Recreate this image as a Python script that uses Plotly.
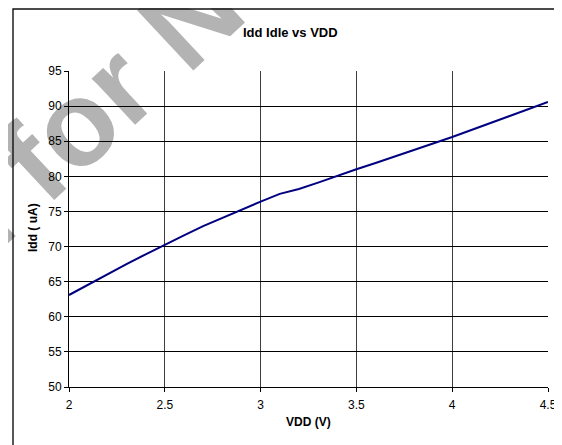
import math
import plotly.graph_objects as go

# ---- data ----
vdd = [2.0, 2.1, 2.2, 2.3, 2.4, 2.5, 2.6, 2.7, 2.8, 2.9, 3.0, 3.1, 3.2,
       3.3, 3.4, 3.5, 3.6, 3.7, 3.8, 3.9, 4.0, 4.1, 4.2, 4.3, 4.4, 4.5]
idd = [63.1, 64.6, 66.1, 67.5, 68.9, 70.3, 71.6, 72.9, 74.1, 75.3, 76.4,
       77.5, 78.2, 79.1, 80.1, 81.0, 81.9, 82.8, 83.7, 84.6, 85.6, 86.6,
       87.6, 88.6, 89.6, 90.6]
x_ticks = [2, 2.5, 3, 3.5, 4, 4.5]
x_tick_labels = ["2", "2.5", "3", "3.5", "4", "4.5"]
y_ticks = [50, 55, 60, 65, 70, 75, 80, 85, 90, 95]

title_text = "Idd Idle vs VDD"
x_title = "VDD (V)"
y_title = "Idd ( uA)"
watermark_text = "Not Recommended for New Designs"

# ---- layout geometry (pixels, page has an 8px body margin) ----
OFF = 8
W, H = 562 - OFF, 445 - OFF
L, T = 69 - OFF, 71 - OFF
R = 562 - 548
B = H - (387 - OFF)
PW, PH = W - L - R, H - T - B


def px(xp):
    # xp: x pixel in the reference image
    return (xp - OFF - L) / PW


def py(yp):
    # yp: y pixel in the reference image
    return (H - B - (yp - OFF)) / PH


FONT = "Arial, Liberation Sans, Helvetica, sans-serif"

fig = go.Figure()
fig.add_trace(go.Scatter(x=vdd, y=idd, mode="lines",
                         line=dict(color="#000080", width=2),
                         showlegend=False, hoverinfo="x+y"))

# watermark (below grid) as a shape label on an invisible line
ang = 43.0
cx, cy = -58, 233
dx, dy = 20 * math.cos(math.radians(ang)), 20 * math.sin(math.radians(ang))
fig.add_shape(type="line", xref="paper", yref="paper",
              x0=px(cx - dx), y0=py(cy + dy), x1=px(cx + dx), y1=py(cy - dy),
              line=dict(color="rgba(0,0,0,0)", width=1), layer="below",
              label=dict(text="<b>" + watermark_text + "</b>", textangle=-ang,
                         textposition="middle", xanchor="center",
                         yanchor="middle", padding=0,
                         font=dict(family=FONT, size=120, color="#b3b3b3")))

# chart-area border
fig.add_shape(type="rect", xref="paper", yref="paper",
              x0=px(13), y0=py(480), x1=px(640), y1=py(9),
              line=dict(color="#111111", width=1.4), layer="above")

# titles
fig.add_annotation(text="<b>" + title_text + "</b>", xref="paper", yref="paper",
                   x=px(290), y=py(32), xanchor="center", yanchor="middle",
                   showarrow=False, font=dict(size=13, color="#000000"))
fig.add_annotation(text="<b>" + x_title + "</b>", xref="paper", yref="paper",
                   x=px(308), y=py(422), xanchor="center", yanchor="middle",
                   showarrow=False, font=dict(size=12, color="#000000"))
fig.add_annotation(text="<b>" + y_title + "</b>", xref="paper", yref="paper",
                   x=px(33), y=py(228), xanchor="center", yanchor="middle",
                   textangle=-90, showarrow=False,
                   font=dict(size=12, color="#000000"))

fig.update_layout(
    width=W, height=H,
    margin=dict(l=L, r=R, t=T, b=B, autoexpand=False),
    paper_bgcolor="white", plot_bgcolor="rgba(0,0,0,0)",
    font=dict(family=FONT, size=12, color="#000000"),
    xaxis=dict(range=[2, 4.5], tickvals=x_ticks, ticktext=x_tick_labels,
               showgrid=True, gridcolor="#3c3c3c", gridwidth=1,
               showline=True, linecolor="#000000", linewidth=1,
               ticks="outside", ticklen=4, tickcolor="#000000",
               ticklabelstandoff=3,
               zeroline=False, automargin=False),
    yaxis=dict(range=[50, 95], tickvals=y_ticks,
               showgrid=True, gridcolor="#000000", gridwidth=1,
               showline=True, linecolor="#000000", linewidth=1,
               ticks="outside", ticklen=4, tickcolor="#000000",
               zeroline=False, automargin=False),
)

fig.write_html("out.html")
